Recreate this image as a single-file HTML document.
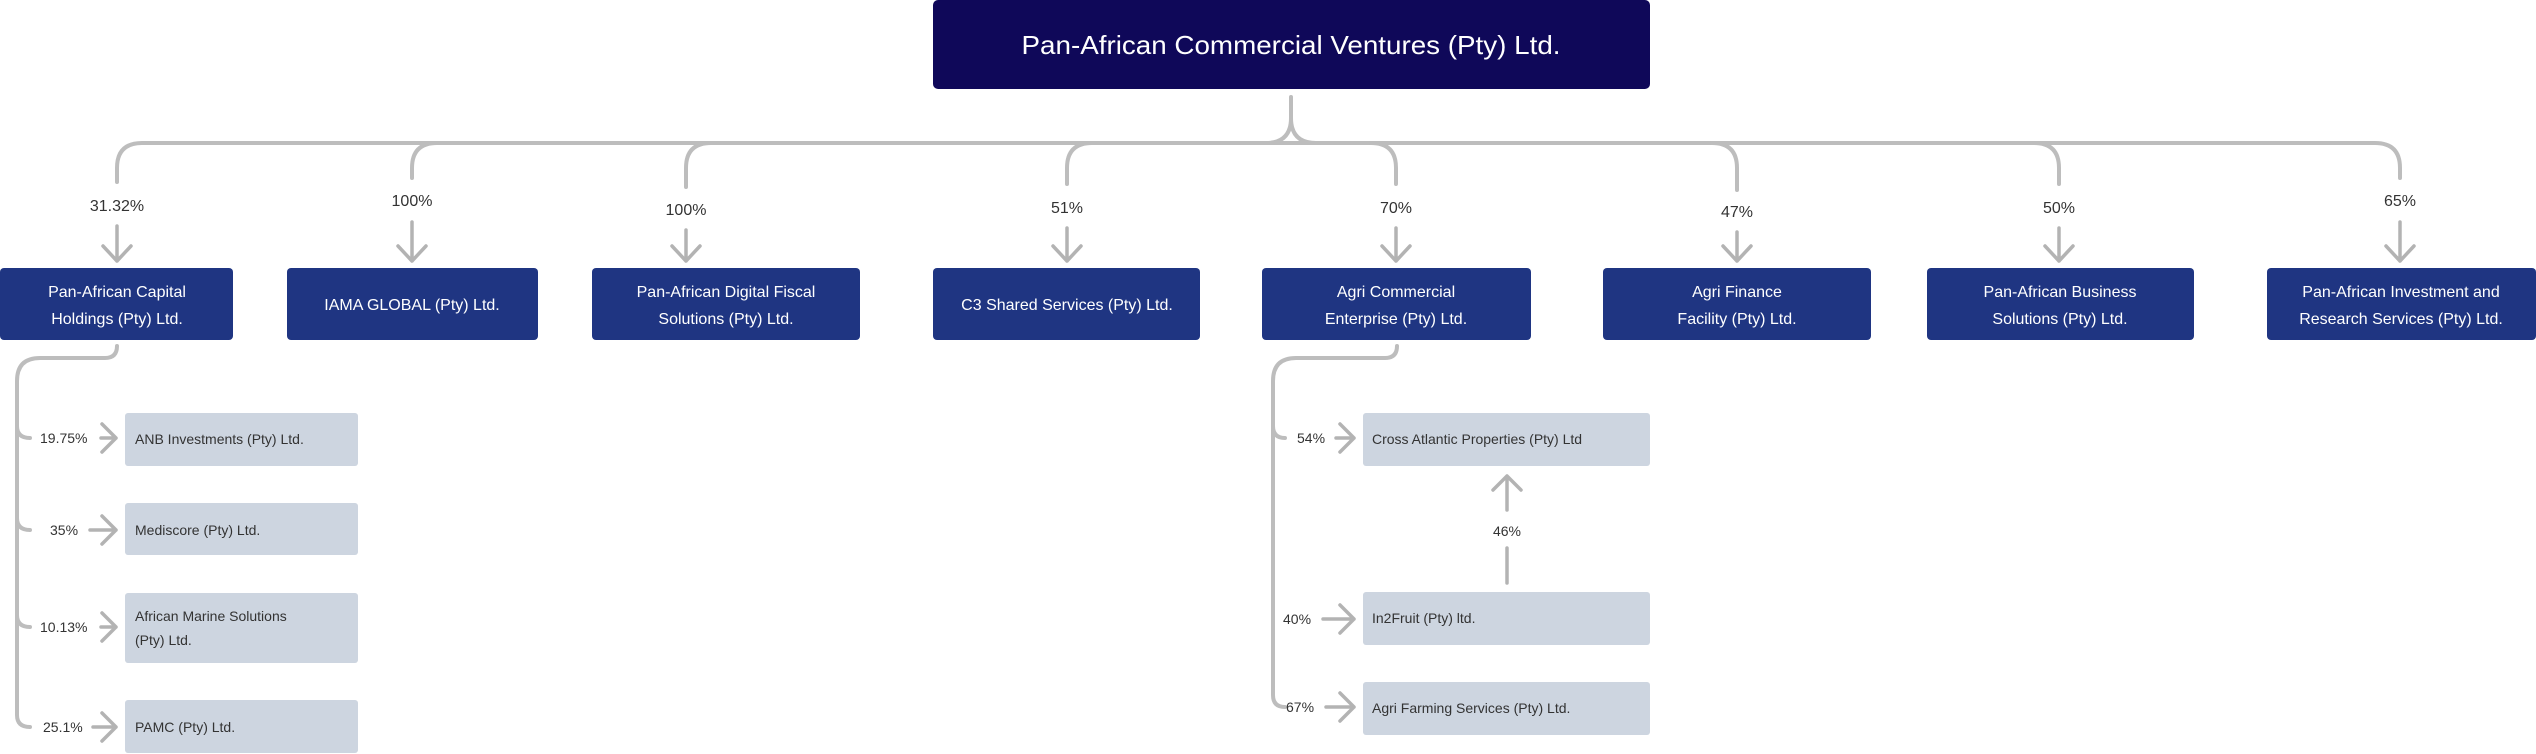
<!DOCTYPE html>
<html><head><meta charset="utf-8"><style>
html,body{margin:0;padding:0;background:#fff;}
svg{display:block;}
text{font-family:"Liberation Sans",sans-serif;}
</style></head><body>
<svg width="2536" height="754" viewBox="0 0 2536 754" xmlns="http://www.w3.org/2000/svg">
<rect x="933" y="0" width="717" height="89" rx="5" fill="#0f0859"/>
<text x="1291" y="54" font-size="26" fill="#fff" text-anchor="middle" textLength="539" lengthAdjust="spacingAndGlyphs">Pan-African Commercial Ventures (Pty) Ltd.</text>

<g fill="none" stroke="#bdbdbd" stroke-width="4" stroke-linecap="round">
<path d="M1291,97 L1291,118 Q1291,143 1266,143 M1291,118 Q1291,143 1316,143"/>
<path d="M117,182 L117,168 Q117,143 142,143 L2375,143 Q2400,143 2400,168 L2400,178"/>
<path d="M437,143 Q412,143 412,168 L412,178"/>
<path d="M711,143 Q686,143 686,168 L686,187"/>
<path d="M1092,143 Q1067,143 1067,168 L1067,184"/>
<path d="M1371,143 Q1396,143 1396,168 L1396,184"/>
<path d="M1712,143 Q1737,143 1737,168 L1737,190"/>
<path d="M2034,143 Q2059,143 2059,168 L2059,184"/>
</g>
<g font-size="16" fill="#333" text-anchor="middle">
<text x="117" y="211">31.32%</text>
<text x="412" y="206">100%</text>
<text x="686" y="215">100%</text>
<text x="1067" y="213">51%</text>
<text x="1396" y="213">70%</text>
<text x="1737" y="217">47%</text>
<text x="2059" y="213">50%</text>
<text x="2400" y="206">65%</text>
</g>
<g fill="none" stroke="#b3b3b3" stroke-width="3.5" stroke-linecap="round" stroke-linejoin="round">
<path d="M117,226 L117,261 M103,246 L117,261 L131,246"/>
<path d="M412,222 L412,261 M398,246 L412,261 L426,246"/>
<path d="M686,230 L686,261 M672,246 L686,261 L700,246"/>
<path d="M1067,228 L1067,261 M1053,246 L1067,261 L1081,246"/>
<path d="M1396,228 L1396,261 M1382,246 L1396,261 L1410,246"/>
<path d="M1737,232 L1737,261 M1723,246 L1737,261 L1751,246"/>
<path d="M2059,228 L2059,261 M2045,246 L2059,261 L2073,246"/>
<path d="M2400,222 L2400,261 M2386,246 L2400,261 L2414,246"/>
</g>

<g fill="#1f3582">
<rect x="0" y="268" width="233" height="72" rx="4"/>
<rect x="287" y="268" width="251" height="72" rx="4"/>
<rect x="592" y="268" width="268" height="72" rx="4"/>
<rect x="933" y="268" width="267" height="72" rx="4"/>
<rect x="1262" y="268" width="269" height="72" rx="4"/>
<rect x="1603" y="268" width="268" height="72" rx="4"/>
<rect x="1927" y="268" width="267" height="72" rx="4"/>
<rect x="2267" y="268" width="269" height="72" rx="4"/>
</g>
<g font-size="16" fill="#fff" text-anchor="middle">
<text x="117" y="297">Pan-African Capital</text><text x="117" y="324">Holdings (Pty) Ltd.</text>
<text x="412" y="310">IAMA GLOBAL (Pty) Ltd.</text>
<text x="726" y="297">Pan-African Digital Fiscal</text><text x="726" y="324">Solutions (Pty) Ltd.</text>
<text x="1067" y="310">C3 Shared Services (Pty) Ltd.</text>
<text x="1396" y="297">Agri Commercial</text><text x="1396" y="324">Enterprise (Pty) Ltd.</text>
<text x="1737" y="297">Agri Finance</text><text x="1737" y="324">Facility (Pty) Ltd.</text>
<text x="2060" y="297">Pan-African Business</text><text x="2060" y="324">Solutions (Pty) Ltd.</text>
<text x="2401" y="297">Pan-African Investment and</text><text x="2401" y="324">Research Services (Pty) Ltd.</text>
</g>

<g fill="none" stroke="#bdbdbd" stroke-width="4" stroke-linecap="round">
<path d="M117,346 Q117,358 105,358 L40,358 Q17,358 17,381 L17,715 Q17,727 30,727"/>
<path d="M17,426 Q17,438 30,438"/>
<path d="M17,518 Q17,530 30,530"/>
<path d="M17,615 Q17,627 30,627"/>
<path d="M1397,346 Q1397,358 1385,358 L1296,358 Q1273,358 1273,381 L1273,695 Q1273,707 1285,707"/>
<path d="M1273,426 Q1273,438 1285,438"/>
</g>
<g fill="none" stroke="#b3b3b3" stroke-width="3.5" stroke-linecap="round" stroke-linejoin="round">
<path d="M101,438 L116,438 M102,424 L116,438 L102,452"/>
<path d="M90,530 L116,530 M102,516 L116,530 L102,544"/>
<path d="M101,627 L116,627 M102,613 L116,627 L102,641"/>
<path d="M93,727 L116,727 M102,713 L116,727 L102,741"/>
<path d="M1336,438 L1354,438 M1340,424 L1354,438 L1340,452"/>
<path d="M1323,619 L1354,619 M1340,605 L1354,619 L1340,633"/>
<path d="M1326,707 L1354,707 M1340,693 L1354,707 L1340,721"/>
<path d="M1507,583 L1507,548 M1507,510 L1507,476 M1493,490 L1507,476 L1521,490"/>
</g>
<g font-size="14" fill="#333">
<text x="40" y="443">19.75%</text>
<text x="50" y="535">35%</text>
<text x="40" y="632">10.13%</text>
<text x="43" y="732">25.1%</text>
<text x="1297" y="443">54%</text>
<text x="1283" y="624">40%</text>
<text x="1286" y="712">67%</text>
<text x="1507" y="536" text-anchor="middle">46%</text>
</g>
<g fill="#cdd5e0">
<rect x="125" y="413" width="233" height="53" rx="3"/>
<rect x="125" y="503" width="233" height="52" rx="3"/>
<rect x="125" y="593" width="233" height="70" rx="3"/>
<rect x="125" y="700" width="233" height="53" rx="3"/>
<rect x="1363" y="413" width="287" height="53" rx="3"/>
<rect x="1363" y="592" width="287" height="53" rx="3"/>
<rect x="1363" y="682" width="287" height="53" rx="3"/>
</g>
<g font-size="14" fill="#333">
<text x="135" y="444">ANB Investments (Pty) Ltd.</text>
<text x="135" y="535">Mediscore (Pty) Ltd.</text>
<text x="135" y="621">African Marine Solutions</text>
<text x="135" y="645">(Pty) Ltd.</text>
<text x="135" y="732">PAMC (Pty) Ltd.</text>
<text x="1372" y="444">Cross Atlantic Properties (Pty) Ltd</text>
<text x="1372" y="623">In2Fruit (Pty) ltd.</text>
<text x="1372" y="713">Agri Farming Services (Pty) Ltd.</text>
</g>
</svg>
</body></html>
